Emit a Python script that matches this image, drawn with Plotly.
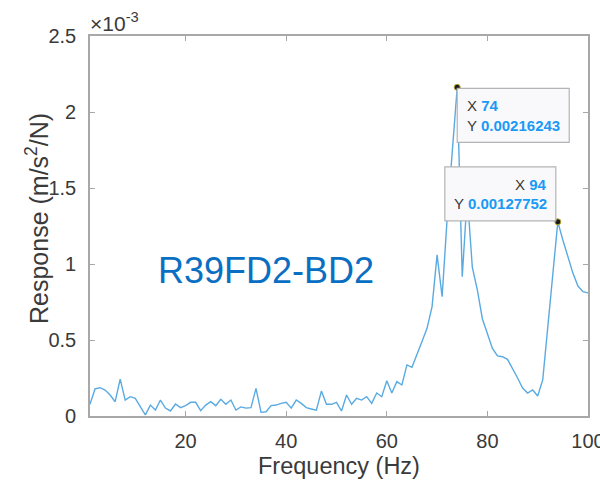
import numpy as np
import plotly.graph_objects as go

# ---------------- data ----------------
freq_hz = list(range(1, 101))
# response in units of 1e-3 m/s^2/N
response_e3 = [
    0.077, 0.178, 0.186, 0.171, 0.138, 0.094, 0.243, 0.105, 0.127, 0.116,
    0.061, 0.007, 0.072, 0.039, 0.105, 0.052, 0.033, 0.079, 0.055, 0.068,
    0.090, 0.090, 0.035, 0.072, 0.094, 0.068, 0.110, 0.077, 0.105, 0.039,
    0.060, 0.052, 0.055, 0.182, 0.024, 0.028, 0.068, 0.072, 0.083, 0.090,
    0.052, 0.105, 0.083, 0.055, 0.046, 0.039, 0.164, 0.077, 0.077, 0.090,
    0.033, 0.138, 0.077, 0.116, 0.105, 0.127, 0.083, 0.151, 0.127, 0.232,
    0.151, 0.226, 0.204, 0.336, 0.320, 0.400, 0.490, 0.577, 0.720, 1.060,
    0.785, 1.300, 1.750, 2.16243, 0.916, 1.450, 0.980, 0.830, 0.640, 0.540,
    0.445, 0.395, 0.390, 0.373, 0.316, 0.250, 0.184, 0.151, 0.171, 0.132,
    0.237, 0.580, 0.940, 1.27752, 1.158, 1.048, 0.940, 0.855, 0.818, 0.810,
]
peak_freqs = [74, 94]
peak_values = [0.00216243, 0.00127752]

x_tickvals = [20, 40, 60, 80, 100]
y_tickvals = [0, 0.0005, 0.001, 0.0015, 0.002, 0.0025]
y_ticktext = ["0", "0.5", "1", "1.5", "2", "2.5"]
label_text = "R39FD2-BD2"

response = np.array(response_e3) * 1e-3

FONT = "Arial, Liberation Sans, Helvetica, sans-serif"
AX_COLOR = "#a8a8a8"
TXT_COLOR = "#3a3a3a"
LINE_COLOR = "#5aaae2"
TIP_BLUE = "#1a9af5"

fig = go.Figure()
fig.add_trace(go.Scatter(
    x=freq_hz, y=response, mode="lines",
    line=dict(color=LINE_COLOR, width=1.4),
    hoverinfo="skip", showlegend=False,
))

# datatip boxes (pixel-sized shapes anchored at the data points)
box_specs = [
    dict(x0=0, x1=112, y0=-1, y1=-55),
    dict(x0=-113, x1=-2, y0=1, y1=55),
]
for fx, fy, spec in zip(peak_freqs, peak_values, box_specs):
    fig.add_shape(
        type="rect", xref="x", yref="y",
        xsizemode="pixel", ysizemode="pixel",
        xanchor=fx, yanchor=fy,
        x0=spec["x0"], x1=spec["x1"], y0=spec["y0"], y1=spec["y1"],
        fillcolor="#f9f9fc", line=dict(color="#b4b4b4", width=1.2),
        layer="above",
    )

fig.add_trace(go.Scatter(
    x=peak_freqs, y=peak_values, mode="markers",
    marker=dict(color="#1a1a1a", size=6, line=dict(color="#b8a830", width=1)),
    hoverinfo="skip", showlegend=False,
))

def tip_line(label, value):
    return (f"<span style='color:{TXT_COLOR}'>{label}</span> "
            f"<b>{value}</b>")

TIP_SIZE = 15
fig.add_annotation(x=peak_freqs[0], y=peak_values[0], xref="x", yref="y",
                   text=tip_line("X", peak_freqs[0]), showarrow=False,
                   xanchor="left", yanchor="middle", xshift=8, yshift=-18,
                   font=dict(family=FONT, size=TIP_SIZE, color=TIP_BLUE))
fig.add_annotation(x=peak_freqs[0], y=peak_values[0], xref="x", yref="y",
                   text=tip_line("Y", f"{peak_values[0]:.8f}"), showarrow=False,
                   xanchor="left", yanchor="middle", xshift=8, yshift=-38,
                   font=dict(family=FONT, size=TIP_SIZE, color=TIP_BLUE))
fig.add_annotation(x=peak_freqs[1], y=peak_values[1], xref="x", yref="y",
                   text=tip_line("X", peak_freqs[1]), showarrow=False,
                   xanchor="right", yanchor="middle", xshift=-9, yshift=37,
                   font=dict(family=FONT, size=TIP_SIZE, color=TIP_BLUE))
fig.add_annotation(x=peak_freqs[1], y=peak_values[1], xref="x", yref="y",
                   text=tip_line("Y", f"{peak_values[1]:.8f}"), showarrow=False,
                   xanchor="right", yanchor="middle", xshift=-9, yshift=18,
                   font=dict(family=FONT, size=TIP_SIZE, color=TIP_BLUE))

# exponent label
fig.add_annotation(x=0, y=1, xref="paper", yref="paper",
                   text="×10<sup>-3</sup>", showarrow=False,
                   xanchor="left", yanchor="bottom", xshift=-2, yshift=-1,
                   font=dict(family=FONT, size=21, color=TXT_COLOR))
# big blue label
fig.add_annotation(x=0.353, y=0.384, xref="paper", yref="paper",
                   text=label_text, showarrow=False,
                   xanchor="center", yanchor="middle",
                   font=dict(family=FONT, size=36, color="#0a6fc2"))
# axis titles
fig.add_annotation(x=0.5, y=0, xref="paper", yref="paper",
                   text="Frequency (Hz)", showarrow=False,
                   xanchor="center", yanchor="middle", yshift=-50,
                   font=dict(family=FONT, size=23.5, color=TXT_COLOR))
fig.add_annotation(x=0, y=0.5, xref="paper", yref="paper",
                   text="Response (m/s<sup>2</sup>/N)", showarrow=False,
                   textangle=-90, xanchor="center", yanchor="middle",
                   xshift=-53, yshift=7,
                   font=dict(family=FONT, size=25, color=TXT_COLOR))

fig.update_layout(
    width=600, height=482,
    margin=dict(l=90, r=12, t=36, b=66, pad=0, autoexpand=False),
    paper_bgcolor="white", plot_bgcolor="white",
    font=dict(family=FONT, color=TXT_COLOR),
    xaxis=dict(
        range=[1, 100.0001], tickvals=x_tickvals, automargin=False,
        ticks="inside", ticklen=5, tickwidth=1.2, tickcolor=AX_COLOR,
        showline=True, linecolor=AX_COLOR, linewidth=1.6, mirror="allticks",
        showgrid=False, zeroline=False,
        tickfont=dict(family=FONT, size=20, color=TXT_COLOR),
        ticklabelstandoff=6, ticklabeloverflow="allow",
    ),
    yaxis=dict(
        range=[0, 0.0025], tickvals=y_tickvals, ticktext=y_ticktext,
        automargin=False,
        ticks="inside", ticklen=5, tickwidth=1.2, tickcolor=AX_COLOR,
        showline=True, linecolor=AX_COLOR, linewidth=1.6, mirror="allticks",
        showgrid=False, zeroline=False,
        tickfont=dict(family=FONT, size=20, color=TXT_COLOR),
        ticklabelstandoff=8, ticklabeloverflow="allow",
    ),
)

fig.write_html("out.html")
